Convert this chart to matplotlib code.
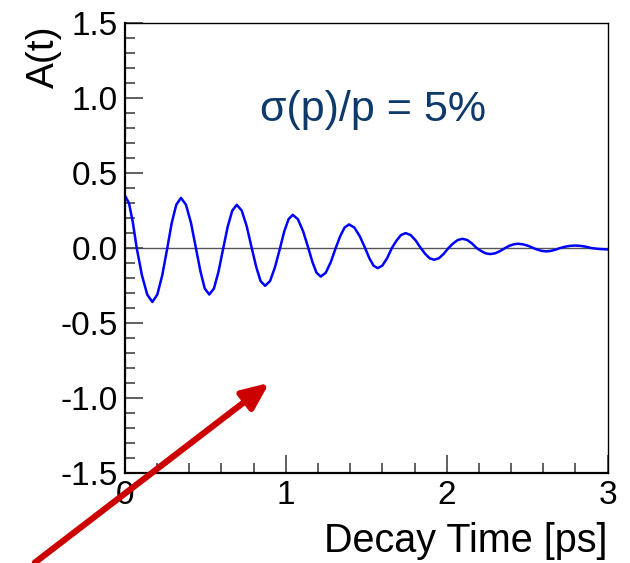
import matplotlib
matplotlib.use("Agg")
import matplotlib.pyplot as plt
from matplotlib.ticker import MultipleLocator, FormatStrFormatter

plt.rcParams["font.family"] = ["Liberation Sans", "DejaVu Sans"]
plt.rcParams["axes.unicode_minus"] = False

# asymmetry curve (t in ps, A(t))
decay_time = [0.0, 0.025, 0.049, 0.073,
              0.105, 0.138, 0.17, 0.201, 0.232, 0.263,
              0.291, 0.319, 0.348, 0.379, 0.410, 0.441,
              0.469, 0.496, 0.524, 0.553, 0.582, 0.611,
              0.639, 0.667, 0.695, 0.726, 0.757, 0.788,
              0.816, 0.843, 0.871, 0.902, 0.933, 0.964,
              0.99, 1.017, 1.043, 1.075, 1.108, 1.14,
              1.166, 1.191, 1.217, 1.248, 1.279, 1.31,
              1.338, 1.365, 1.393, 1.426, 1.46, 1.493,
              1.519, 1.545, 1.571, 1.6, 1.63, 1.659,
              1.688, 1.716, 1.745, 1.776, 1.808, 1.839,
              1.867, 1.894, 1.922, 1.952, 1.981, 2.011,
              2.04, 2.069, 2.098, 2.128, 2.157, 2.187,
              2.215, 2.242, 2.27, 2.301, 2.332, 2.363,
              2.389, 2.416, 2.442, 2.475, 2.507, 2.54,
              2.566, 2.592, 2.618, 2.647, 2.676, 2.705,
              2.736, 2.767, 2.798, 2.832, 2.866, 2.90,
              2.95, 3.0]
asym = [0.35, 0.30, 0.17, 0.0,
        -0.18, -0.31, -0.36, -0.31, -0.18, 0.0,
        0.17, 0.29, 0.335, 0.29, 0.17, 0.0,
        -0.155, -0.27, -0.31, -0.27, -0.155, 0.0,
        0.145, 0.25, 0.289, 0.25, 0.145, 0.0,
        -0.126, -0.22, -0.252, -0.22, -0.126, 0.0,
        0.111, 0.193, 0.222, 0.193, 0.111, 0.0,
        -0.095, -0.165, -0.19, -0.165, -0.095, 0.0,
        0.079, 0.137, 0.158, 0.137, 0.079, 0.0,
        -0.067, -0.117, -0.134, -0.117, -0.067, 0.0,
        0.05, 0.087, 0.10, 0.087, 0.05, 0.0,
        -0.039, -0.068, -0.078, -0.068, -0.039, 0.0,
        0.031, 0.054, 0.062, 0.054, 0.031, 0.0,
        -0.02, -0.035, -0.04, -0.035, -0.02, 0.0,
        0.015, 0.025, 0.029, 0.025, 0.015, 0.0,
        -0.011, -0.019, -0.022, -0.019, -0.011, 0.0,
        0.009, 0.015, 0.017, 0.015, 0.009, 0.0,
        -0.006, -0.009]

fig = plt.figure(figsize=(6.3, 5.63), dpi=100)
ax = fig.add_axes([0.1984, 0.1604, 0.7659, 0.7979])

ax.axhline(0, color="#555555", lw=1.0, zorder=1)
ax.plot(decay_time, asym, color="#0000ff", lw=1.8, zorder=2)

ax.set_xlim(0, 3)
ax.set_ylim(-1.5, 1.5)
ax.xaxis.set_major_locator(MultipleLocator(1))
ax.xaxis.set_minor_locator(MultipleLocator(0.2))
ax.yaxis.set_major_locator(MultipleLocator(0.5))
ax.yaxis.set_minor_locator(MultipleLocator(0.1))
ax.yaxis.set_major_formatter(FormatStrFormatter("%.1f"))
ax.xaxis.set_major_formatter(FormatStrFormatter("%d"))

ax.tick_params(which="both", direction="in", top=False, right=False,
               color="#444444", width=1.2, labelsize=24, pad=5)
ax.tick_params(which="major", length=13)
ax.tick_params(which="minor", length=7)

for s in ["left", "bottom"]:
    ax.spines[s].set_linewidth(1.6)
for s in ["top", "right"]:
    ax.spines[s].set_linewidth(1.0)

ax.text(1.54, 0.85, "σ(p)/p = 5%", color="#0d3a6a", fontsize=31,
        ha="center", va="baseline")

fig.text(44 / 630, 1 - 25 / 563, "A(t)", rotation=90, fontsize=28,
         ha="center", va="top")
fig.text(607 / 630, 1 - 552 / 563, "Decay Time [ps]", fontsize=28.5,
         ha="right", va="baseline")

# red arrow pointing into the plot
ax.annotate("", xy=(0.897, -0.90), xytext=(-0.56, -2.10),
            arrowprops=dict(arrowstyle="-|>,head_length=1.6,head_width=0.7",
                            color="#cc0000", lw=4.5, shrinkA=0, shrinkB=0),
            annotation_clip=False)

plt.savefig("out.png", dpi=100)
